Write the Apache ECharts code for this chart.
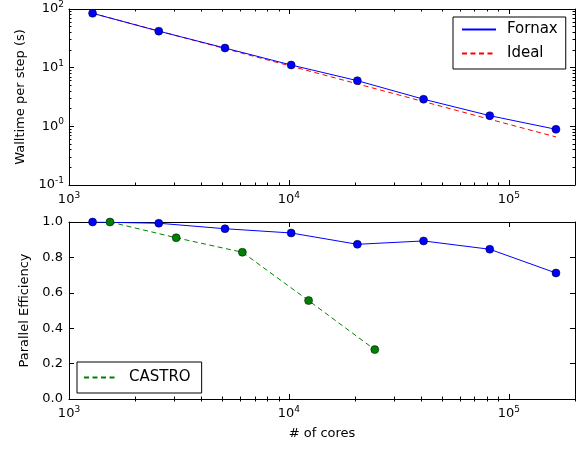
<!DOCTYPE html>
<html>
<head>
<meta charset="utf-8">
<script src="https://cdn.jsdelivr.net/npm/echarts@6/dist/echarts.min.js"></script>
<style>
html,body{margin:0;padding:0;background:#fff;}
#chart{width:584px;height:449px;}
</style>
</head>
<body>
<div id="chart"></div>
<script>
// ---- data ----
const coresFornax = [1280, 2560, 5120, 10240, 20480, 40960, 81920, 163840];
const walltimeFornax = [84.5, 41.9, 21.6, 11.1, 6.0, 2.90, 1.52, 0.89];
const walltimeIdeal = [84.5, 42.2, 21.1, 10.6, 5.3, 2.64, 1.32, 0.66];
const effFornax = [1.0, 0.993, 0.962, 0.938, 0.874, 0.893, 0.846, 0.712];
const coresCastro = [1536, 3072, 6144, 12288, 24576];
const effCastro = [1.0, 0.911, 0.829, 0.556, 0.279];

const xMajorTicks = [1000, 10000, 100000];
const xMinorTicks = [2000, 3000, 4000, 5000, 6000, 7000, 8000, 9000,
  20000, 30000, 40000, 50000, 60000, 70000, 80000, 90000, 200000];
const yLogMajorTicks = [0.1, 1, 10, 100];
const yLogMinorTicks = [0.2, 0.3, 0.4, 0.5, 0.6, 0.7, 0.8, 0.9,
  2, 3, 4, 5, 6, 7, 8, 9, 20, 30, 40, 50, 60, 70, 80, 90];
const yEffTicks = [0, 0.2, 0.4, 0.6, 0.8, 1.0];

const FONT = 'DejaVu Sans';
const pairs = (xs, ys) => xs.map((x, i) => [x, ys[i]]);

const powRich = {
  b: { fontSize: 13, fontFamily: FONT, color: '#000' },
  s: { fontSize: 9, fontFamily: FONT, color: '#000', padding: [0, 0, 9, 0] }
};
function powLabel(v) {
  const e = Math.round(Math.log10(v));
  return '{b|10}{s|' + (e < 0 ? '-' + (-e) : e) + '}';
}

const lineAx = { show: true, onZero: false, lineStyle: { color: '#000', width: 1 } };

function xAxesFor(grid, withName) {
  const base = { type: 'log', logBase: 10, min: 1000, max: 200000, gridIndex: grid, splitLine: { show: false } };
  return [
    Object.assign({}, base, {
      position: 'bottom', axisLine: lineAx,
      axisTick: { show: true, inside: true, length: 5, customValues: xMajorTicks, lineStyle: { color: '#000' } },
      axisLabel: { show: true, customValues: xMajorTicks, margin: 6, formatter: powLabel, rich: powRich },
      name: withName ? '# of cores' : '', nameLocation: 'middle', nameGap: 28,
      nameTextStyle: { fontFamily: FONT, fontSize: 13, color: '#000' }
    }),
    Object.assign({}, base, {
      position: 'top', axisLine: lineAx,
      axisTick: { show: true, inside: true, length: 5, customValues: xMajorTicks, lineStyle: { color: '#000' } },
      axisLabel: { show: false }
    }),
    Object.assign({}, base, {
      position: 'bottom', axisLine: { show: false },
      axisTick: { show: true, inside: true, length: 2.5, customValues: xMinorTicks, lineStyle: { color: '#000' } },
      axisLabel: { show: false }
    }),
    Object.assign({}, base, {
      position: 'top', axisLine: { show: false },
      axisTick: { show: true, inside: true, length: 2.5, customValues: xMinorTicks, lineStyle: { color: '#000' } },
      axisLabel: { show: false }
    })
  ];
}

const logY = { type: 'log', logBase: 10, min: 0.1, max: 100, gridIndex: 0, splitLine: { show: false } };
const effY = { type: 'value', min: 0, max: 1, interval: 0.2, gridIndex: 1, splitLine: { show: false } };

const yAxes = [
  Object.assign({}, logY, {
    position: 'left', axisLine: lineAx,
    axisTick: { show: true, inside: true, length: 5, customValues: yLogMajorTicks, lineStyle: { color: '#000' } },
    axisLabel: { show: true, customValues: yLogMajorTicks, margin: 5, formatter: powLabel, rich: powRich },
    name: 'Walltime per step (s)', nameLocation: 'middle', nameGap: 41,
    nameTextStyle: { fontFamily: FONT, fontSize: 13, color: '#000' }
  }),
  Object.assign({}, logY, {
    position: 'right', axisLine: lineAx,
    axisTick: { show: true, inside: true, length: 5, customValues: yLogMajorTicks, lineStyle: { color: '#000' } },
    axisLabel: { show: false }
  }),
  Object.assign({}, logY, {
    position: 'left', axisLine: { show: false },
    axisTick: { show: true, inside: true, length: 2.5, customValues: yLogMinorTicks, lineStyle: { color: '#000' } },
    axisLabel: { show: false }
  }),
  Object.assign({}, logY, {
    position: 'right', axisLine: { show: false },
    axisTick: { show: true, inside: true, length: 2.5, customValues: yLogMinorTicks, lineStyle: { color: '#000' } },
    axisLabel: { show: false }
  }),
  Object.assign({}, effY, {
    position: 'left', axisLine: lineAx,
    axisTick: { show: true, inside: true, length: 5, customValues: yEffTicks, lineStyle: { color: '#000' } },
    axisLabel: { show: true, customValues: yEffTicks, margin: 6, fontFamily: FONT, fontSize: 13, color: '#000',
      formatter: v => v.toFixed(1) },
    name: 'Parallel Efficiency', nameLocation: 'middle', nameGap: 32,
    nameTextStyle: { fontFamily: FONT, fontSize: 13, color: '#000' }
  }),
  Object.assign({}, effY, {
    position: 'right', axisLine: lineAx,
    axisTick: { show: true, inside: true, length: 5, customValues: yEffTicks, lineStyle: { color: '#000' } },
    axisLabel: { show: false }
  })
];

const blue = '#0000ff', red = '#ff0000', green = '#008000';
const dash = [5, 3.5];
const marker = (c) => ({ color: c, borderColor: '#000', borderWidth: 0.5 });

const option = {
  animation: false,
  backgroundColor: '#fff',
  grid: [
    { left: 69, top: 8, width: 506, height: 177 },
    { left: 69, top: 222, width: 506, height: 177 }
  ],
  xAxis: xAxesFor(0, false).concat(xAxesFor(1, true)),
  yAxis: yAxes,
  legend: [
    {
      data: ['Fornax', 'Ideal'], orient: 'vertical', left: 453, top: 17,
      padding: [5, 8, 8, 8], itemWidth: 34, itemHeight: 14, itemGap: 9,
      borderColor: '#000', borderWidth: 1, borderRadius: 0, backgroundColor: '#fff',
      itemStyle: { opacity: 0 },
      textStyle: { fontFamily: FONT, fontSize: 15, color: '#000', padding: [0, 0, 0, 6] },
      selectedMode: false
    },
    {
      data: ['CASTRO'], orient: 'vertical', left: 77, top: 362,
      padding: [8, 11, 8, 6], itemWidth: 34, itemHeight: 14,
      borderColor: '#000', borderWidth: 1, borderRadius: 0, backgroundColor: '#fff',
      itemStyle: { opacity: 0 },
      textStyle: { fontFamily: FONT, fontSize: 15, color: '#000', padding: [0, 0, 0, 6] },
      selectedMode: false
    }
  ],
  series: [
    { name: 'Fornax', type: 'line', xAxisIndex: 0, yAxisIndex: 0, data: [], symbol: 'none',
      lineStyle: { color: blue, width: 1 }, itemStyle: { color: blue } },
    { name: 'Ideal', type: 'line', xAxisIndex: 0, yAxisIndex: 0, data: pairs(coresFornax, walltimeIdeal),
      symbol: 'none', lineStyle: { color: red, width: 1, type: dash }, itemStyle: { color: red }, z: 2 },
    { name: 'Fornax walltime', type: 'line', xAxisIndex: 0, yAxisIndex: 0, data: pairs(coresFornax, walltimeFornax),
      symbol: 'circle', symbolSize: 8, lineStyle: { color: blue, width: 1 }, itemStyle: marker(blue), z: 3 },
    { name: 'CASTRO', type: 'line', xAxisIndex: 4, yAxisIndex: 4, data: [], symbol: 'none',
      lineStyle: { color: green, width: 1, type: dash }, itemStyle: { color: green } },
    { name: 'Fornax efficiency', type: 'line', xAxisIndex: 4, yAxisIndex: 4, data: pairs(coresFornax, effFornax),
      symbol: 'circle', symbolSize: 8, lineStyle: { color: blue, width: 1 }, itemStyle: marker(blue), z: 3 },
    { name: 'CASTRO efficiency', type: 'line', xAxisIndex: 4, yAxisIndex: 4, data: pairs(coresCastro, effCastro),
      symbol: 'circle', symbolSize: 8, lineStyle: { color: green, width: 1, type: dash }, itemStyle: marker(green), z: 3 }
  ]
};

const chart = echarts.init(document.getElementById('chart'), null, { renderer: 'canvas' });
chart.setOption(option);
</script>
</body>
</html>
